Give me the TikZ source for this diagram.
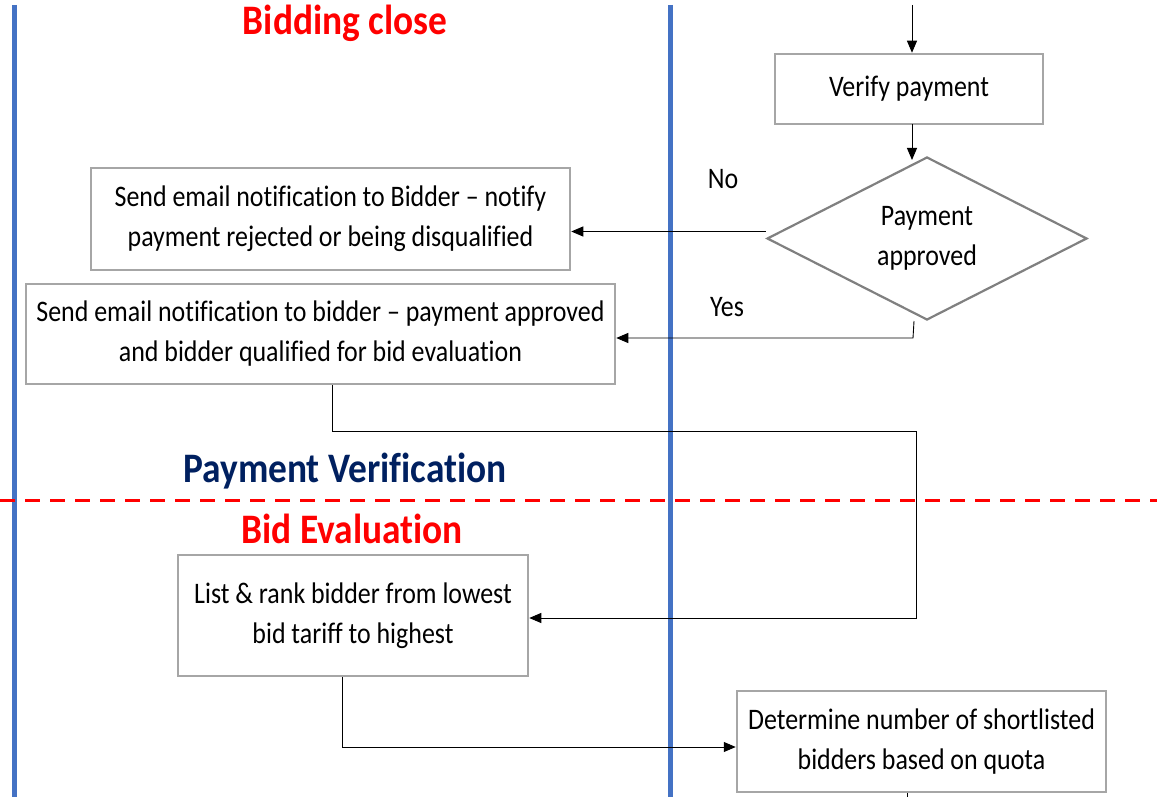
\documentclass[tikz,border=0pt]{standalone}
\usepackage{fontspec}
\setmainfont{Carlito}[Ligatures=NoCommon,FakeStretch=0.87]
\newfontfamily\titlefont{Carlito}[Ligatures=NoCommon,FakeStretch=0.89]
\usetikzlibrary{arrows.meta,shapes.geometric}
\definecolor{lanecol}{HTML}{4472C4}
\definecolor{navy}{HTML}{002060}
\definecolor{boxgray}{HTML}{A6A6A6}
\definecolor{diagray}{HTML}{808080}
\begin{document}
\begin{tikzpicture}[x=1pt,y=-1pt,
  box/.style={draw=boxgray,line width=2.5pt,fill=white,inner sep=0pt,align=center,
    font=\fontsize{29.8}{40}\selectfont},
  decision/.style={diamond,draw=diagray,line width=2.2pt,fill=white,inner sep=0pt,
    aspect=1.96,minimum width=320pt,minimum height=163pt,align=center,
    font=\fontsize{29.8}{40}\selectfont},
  lbl/.style={font=\fontsize{29.8}{32}\selectfont},
  title/.style={font=\titlefont\fontsize{42}{46}\selectfont\bfseries},
  lane/.style={draw=lanecol,line width=5pt},
  conn/.style={draw=black,line width=0.9pt},
  arr/.style={conn,-{Triangle[length=12pt,width=10pt]}}
]
\useasboundingbox (0,0) rectangle (1157,797);

% swimlane separators
\draw[lane] (14,5) -- (14,797);
\draw[lane] (670,5) -- (670,797);

% phase separator
\draw[red,line width=3pt,dash pattern=on 15pt off 10pt] (0,500) -- (1157,500);

% titles
\node[title,text=red] (t1) at (345,23.5) {Bidding close};
\node[title,text=navy] (t2) at (345,471.5) {Payment Verification};
\node[title,text=red] (t3) at (352,529) {Bid Evaluation};

% nodes
\node[box,minimum width=268pt,minimum height=70pt] (verify) at (909,89) {Verify payment};
\node[decision] (dia) at (927,238.5) {\raisebox{-2pt}{Payment}\\\raisebox{-2pt}{approved}};
\node[box,minimum width=479pt,minimum height=102pt] (b1) at (330.5,219)
  {Send email notification to Bidder -- notify\\payment rejected or being disqualified};
\node[box,minimum width=589pt,minimum height=100pt] (b2) at (320.5,334)
  {Send email notification to bidder -- payment approved\\and bidder qualified for bid evaluation};
\node[box,minimum width=350pt,minimum height=121pt] (b3) at (353,615.5)
  {List \& rank bidder from lowest\\bid tariff to highest};
\node[box,minimum width=369pt,minimum height=101pt] (b4) at (921.5,741.5)
  {Determine number of shortlisted\\bidders based on quota};

\node[lbl] (no) at (723,179) {No};
\node[lbl] (yes) at (727,307) {Yes};

% connectors
\coordinate (topin) at (912,5);
\draw[arr] (topin) -- (topin |- verify.north);
\coordinate (vdown) at (912,124);
\draw[arr] (vdown) -- (912,160);

\coordinate (nostart) at ([yshift=7pt]dia.west);
\draw[arr] (nostart) -- (b1.east |- nostart);

\coordinate (yes1) at (914,321);
\coordinate (yes2) at (913,338);
\draw[arr] (yes1) -- (yes2) -- (b2.east |- yes2);

\coordinate (c1) at (332,431);
\coordinate (c2) at (916,431);
\coordinate (c3) at (916,618);
\draw[arr] (c1 |- b2.south) -- (c1) -- (c2) -- (c3) -- (b3.east |- c3);

\coordinate (d1) at (342,747);
\draw[arr] (d1 |- b3.south) -- (d1) -- (b4.west |- d1);

\coordinate (e1) at (907,797);
\draw[conn] (e1 |- b4.south) -- (e1);
\end{tikzpicture}
\end{document}
